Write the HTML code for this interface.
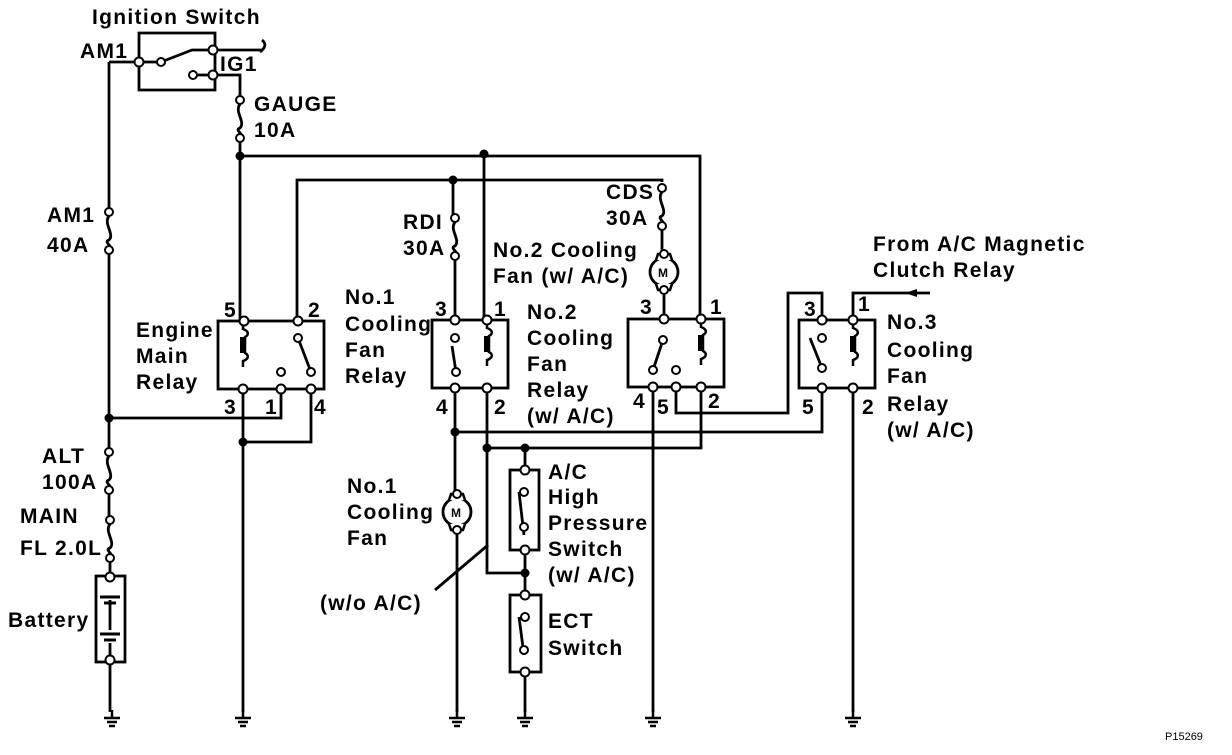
<!DOCTYPE html>
<html><head><meta charset="utf-8"><style>
html,body{margin:0;padding:0;background:#fff;}
svg text{font-family:"Liberation Sans",Arial,sans-serif;font-weight:bold;font-size:21px;letter-spacing:1.3px;fill:#000;}
</style></head><body>
<svg width="1232" height="750" viewBox="0 0 1232 750" xmlns="http://www.w3.org/2000/svg">
<defs>
<g id="gnd"><line x1="0" y1="0" x2="0" y2="-8" stroke="#000" stroke-width="2.5"/><line x1="-8" y1="0" x2="8" y2="0" stroke="#000" stroke-width="2.5"/><line x1="-5" y1="4" x2="5" y2="4" stroke="#000" stroke-width="2.5"/><line x1="-3" y1="8" x2="3" y2="8" stroke="#000" stroke-width="2.5"/></g>
<g id="fuse"><circle cx="0" cy="0" r="4" fill="#fff" stroke="#000" stroke-width="2"/><path d="M0 4 C-6 12,6 22,0 28 C-6 30,4 34,0 36" fill="none" stroke="#000" stroke-width="2.8"/><circle cx="0" cy="38" r="4" fill="#fff" stroke="#000" stroke-width="2"/></g>
<g id="coil"><path d="M0 0 L0 6 C6 8,6 12,2 14 L2 30 C6 32,6 36,0 38 L0 44" fill="none" stroke="#000" stroke-width="2.5"/><rect x="-3" y="14" width="6" height="16" fill="#000"/></g>
</defs>
<g fill="none" stroke="#000" stroke-width="2.8" stroke-linejoin="miter">
<path d="M139 33 H215 V90 H139 Z"/>
<path d="M109 62 H139"/>
<path d="M139 62 H161 L192 50 H213"/>
<path d="M213 50 H262"/>
<path d="M262 40 C267 44,265 48,260 52"/>
<path d="M193 75 H240 V98"/>
<path d="M109 62 V210"/>
<path d="M109 250 V450"/>
<path d="M109 492 V518"/>
<path d="M110 558 V577"/>
<path d="M110 662 V712"/>
<path d="M240 138 V320"/>
<path d="M240 156 H700 V320"/>
<path d="M297 320 V180 H662 V182"/>
<path d="M662 226 V258"/>
<path d="M664 286 V320"/>
<path d="M453 180 V216"/>
<path d="M455 256 V320"/>
<path d="M484 154 V320"/>
<rect x="218" y="321" width="106" height="68"/>
<path d="M281 389 V418 H109"/>
<path d="M243 389 V712"/>
<path d="M311 389 V442 H243"/>
<path d="M298 338 L311 372"/>
<rect x="432" y="320" width="76" height="68"/>
<path d="M452 346 L456 372"/>
<path d="M455 388 V498"/>
<path d="M457 526 V712"/>
<path d="M487 388 V573 H525"/>
<path d="M455 432 H822 V388"/>
<path d="M487 448 H701 V388"/>
<rect x="628" y="319" width="96" height="68"/>
<path d="M663 340 L653 370"/>
<path d="M653 387 V712"/>
<path d="M676 387 V413 H788 V293 H822 V320"/>
<rect x="799" y="320" width="76" height="68"/>
<path d="M810 338 L822 368"/>
<path d="M853 320 V293 H930"/>
<path d="M853 388 V712"/>
<rect x="510" y="470" width="29" height="80"/>
<path d="M525 448 V470 M525 550 V595"/>
<path d="M519 492 L524 535"/>
<rect x="510" y="595" width="31" height="77"/>
<path d="M519 617 L524 655"/>
<path d="M525 672 V712"/>
<path d="M435 590 L488 545"/>
<rect x="96" y="576" width="29" height="86"/>
<path d="M110 600 V630"/>
<path d="M110 643 V660"/>
</g>
<path d="M905 293 l12 -4 v8 z" fill="#000"/>
<g stroke="#000" stroke-width="3"><line x1="100" y1="597" x2="120" y2="597"/><line x1="104" y1="603" x2="116" y2="603"/><line x1="100" y1="634" x2="120" y2="634"/><line x1="104" y1="640" x2="116" y2="640"/></g>
<use href="#fuse" x="240" y="100"/>
<use href="#fuse" x="109" y="212"/>
<use href="#fuse" x="455" y="218"/>
<use href="#fuse" x="662" y="188"/>
<use href="#fuse" x="109" y="452"/>
<use href="#fuse" x="110" y="520"/>
<use href="#coil" x="243" y="323"/>
<use href="#coil" x="487" y="322"/>
<use href="#coil" x="701" y="321"/>
<use href="#coil" x="853" y="322"/>
<g fill="#fff" stroke="#000" stroke-width="2.8">
<circle cx="664" cy="272" r="14"/><circle cx="457" cy="512" r="14"/>
</g>
<g stroke="#000" stroke-width="2.5" fill="#fff">
<path d="M656 260 L658 254 H670 L672 260"/><path d="M656 284 L658 290 H670 L672 284"/>
<path d="M449 500 L451 494 H463 L465 500"/><path d="M449 524 L451 530 H463 L465 524"/>
</g>
<g style="font-size:12px;letter-spacing:0"><text x="658" y="277" style="font-size:12px;letter-spacing:0">M</text><text x="451" y="517" style="font-size:12px;letter-spacing:0">M</text></g>
<g fill="#fff" stroke="#000" stroke-width="2">
<circle cx="139" cy="62" r="4.5"/><circle cx="161" cy="62" r="4"/><circle cx="213" cy="50" r="4.5"/><circle cx="193" cy="75" r="4"/><circle cx="213" cy="75" r="4.5"/>
<circle cx="244" cy="321" r="4.5"/><circle cx="298" cy="321" r="4.5"/><circle cx="243" cy="389" r="4.5"/><circle cx="281" cy="389" r="4.5"/><circle cx="311" cy="389" r="4.5"/><circle cx="298" cy="338" r="4"/><circle cx="311" cy="372" r="4"/><circle cx="281" cy="372" r="4"/>
<circle cx="455" cy="320" r="4.5"/><circle cx="487" cy="320" r="4.5"/><circle cx="455" cy="388" r="4.5"/><circle cx="487" cy="388" r="4.5"/><circle cx="455" cy="338" r="4"/><circle cx="456" cy="372" r="4"/>
<circle cx="664" cy="319" r="4.5"/><circle cx="701" cy="319" r="4.5"/><circle cx="653" cy="387" r="4.5"/><circle cx="676" cy="387" r="4.5"/><circle cx="701" cy="387" r="4.5"/><circle cx="663" cy="340" r="4"/><circle cx="653" cy="370" r="4"/><circle cx="676" cy="370" r="4"/>
<circle cx="664" cy="290" r="4"/><circle cx="664" cy="254" r="4"/><circle cx="457" cy="494" r="4"/><circle cx="457" cy="530" r="4"/>
<circle cx="822" cy="320" r="4.5"/><circle cx="853" cy="320" r="4.5"/><circle cx="822" cy="388" r="4.5"/><circle cx="853" cy="388" r="4.5"/><circle cx="822" cy="338" r="4"/><circle cx="822" cy="368" r="4"/>
<circle cx="525" cy="470" r="4.5"/><circle cx="525" cy="550" r="4.5"/><circle cx="524" cy="492" r="4"/><circle cx="524" cy="527" r="4"/>
<circle cx="525" cy="595" r="4.5"/><circle cx="525" cy="672" r="4.5"/><circle cx="525" cy="617" r="4"/><circle cx="524" cy="650" r="4"/>
<circle cx="110" cy="577" r="4.5"/><circle cx="110" cy="660" r="4.5"/>
</g>
<g fill="#000">
<circle cx="240" cy="156" r="4.5"/><circle cx="484" cy="154" r="4.5"/><circle cx="453" cy="180" r="4.5"/>
<circle cx="109" cy="418" r="4.5"/><circle cx="243" cy="442" r="4.5"/>
<circle cx="455" cy="432" r="4.5"/><circle cx="487" cy="448" r="4.5"/><circle cx="525" cy="448" r="4.5"/><circle cx="525" cy="573" r="4.5"/>
</g>
<use href="#gnd" x="112" y="718"/><use href="#gnd" x="243" y="718"/><use href="#gnd" x="457" y="718"/><use href="#gnd" x="525" y="718"/><use href="#gnd" x="653" y="718"/><use href="#gnd" x="853" y="718"/>
<text x="92" y="24">Ignition Switch</text>
<text x="80" y="58">AM1</text>
<text x="220" y="71">IG1</text>
<text x="254" y="111">GAUGE</text><text x="254" y="137">10A</text>
<text x="47" y="222">AM1</text><text x="47" y="252">40A</text>
<text x="136" y="337">Engine</text><text x="136" y="363">Main</text><text x="136" y="389">Relay</text>
<text x="224" y="317">5</text><text x="308" y="317">2</text><text x="224" y="414">3</text><text x="265" y="414">1</text><text x="314" y="414">4</text>
<text x="345" y="304">No.1</text><text x="345" y="331">Cooling</text><text x="345" y="357">Fan</text><text x="345" y="383">Relay</text>
<text x="403" y="229">RDI</text><text x="403" y="255">30A</text>
<text x="606" y="199">CDS</text><text x="606" y="225">30A</text>
<text x="493" y="257">No.2 Cooling</text><text x="493" y="283">Fan (w/  A/C)</text>
<text x="435" y="316">3</text><text x="494" y="316">1</text><text x="436" y="414">4</text><text x="494" y="414">2</text>
<text x="527" y="319">No.2</text><text x="527" y="345">Cooling</text><text x="527" y="371">Fan</text><text x="527" y="397">Relay</text><text x="527" y="423">(w/  A/C)</text>
<text x="640" y="314">3</text><text x="710" y="314">1</text><text x="633" y="408">4</text><text x="657" y="414">5</text><text x="708" y="408">2</text>
<text x="873" y="251">From A/C Magnetic</text><text x="873" y="277">Clutch Relay</text>
<text x="804" y="316">3</text><text x="858" y="311">1</text><text x="802" y="414">5</text><text x="862" y="414">2</text>
<text x="887" y="329">No.3</text><text x="887" y="357">Cooling</text><text x="887" y="383">Fan</text><text x="887" y="411">Relay</text><text x="887" y="437">(w/  A/C)</text>
<text x="42" y="463">ALT</text><text x="42" y="489">100A</text>
<text x="20" y="523">MAIN</text><text x="20" y="555">FL 2.0L</text>
<text x="8" y="627">Battery</text>
<text x="347" y="493">No.1</text><text x="347" y="519">Cooling</text><text x="347" y="545">Fan</text>
<text x="320" y="610">(w/o A/C)</text>
<text x="548" y="479">A/C</text><text x="548" y="504">High</text><text x="548" y="530">Pressure</text><text x="548" y="556">Switch</text><text x="548" y="582">(w/  A/C)</text>
<text x="548" y="628">ECT</text><text x="548" y="655">Switch</text>
<text x="1165" y="740" style="font-size:11px;font-weight:normal;letter-spacing:0">P15269</text>
</svg>
</body></html>
